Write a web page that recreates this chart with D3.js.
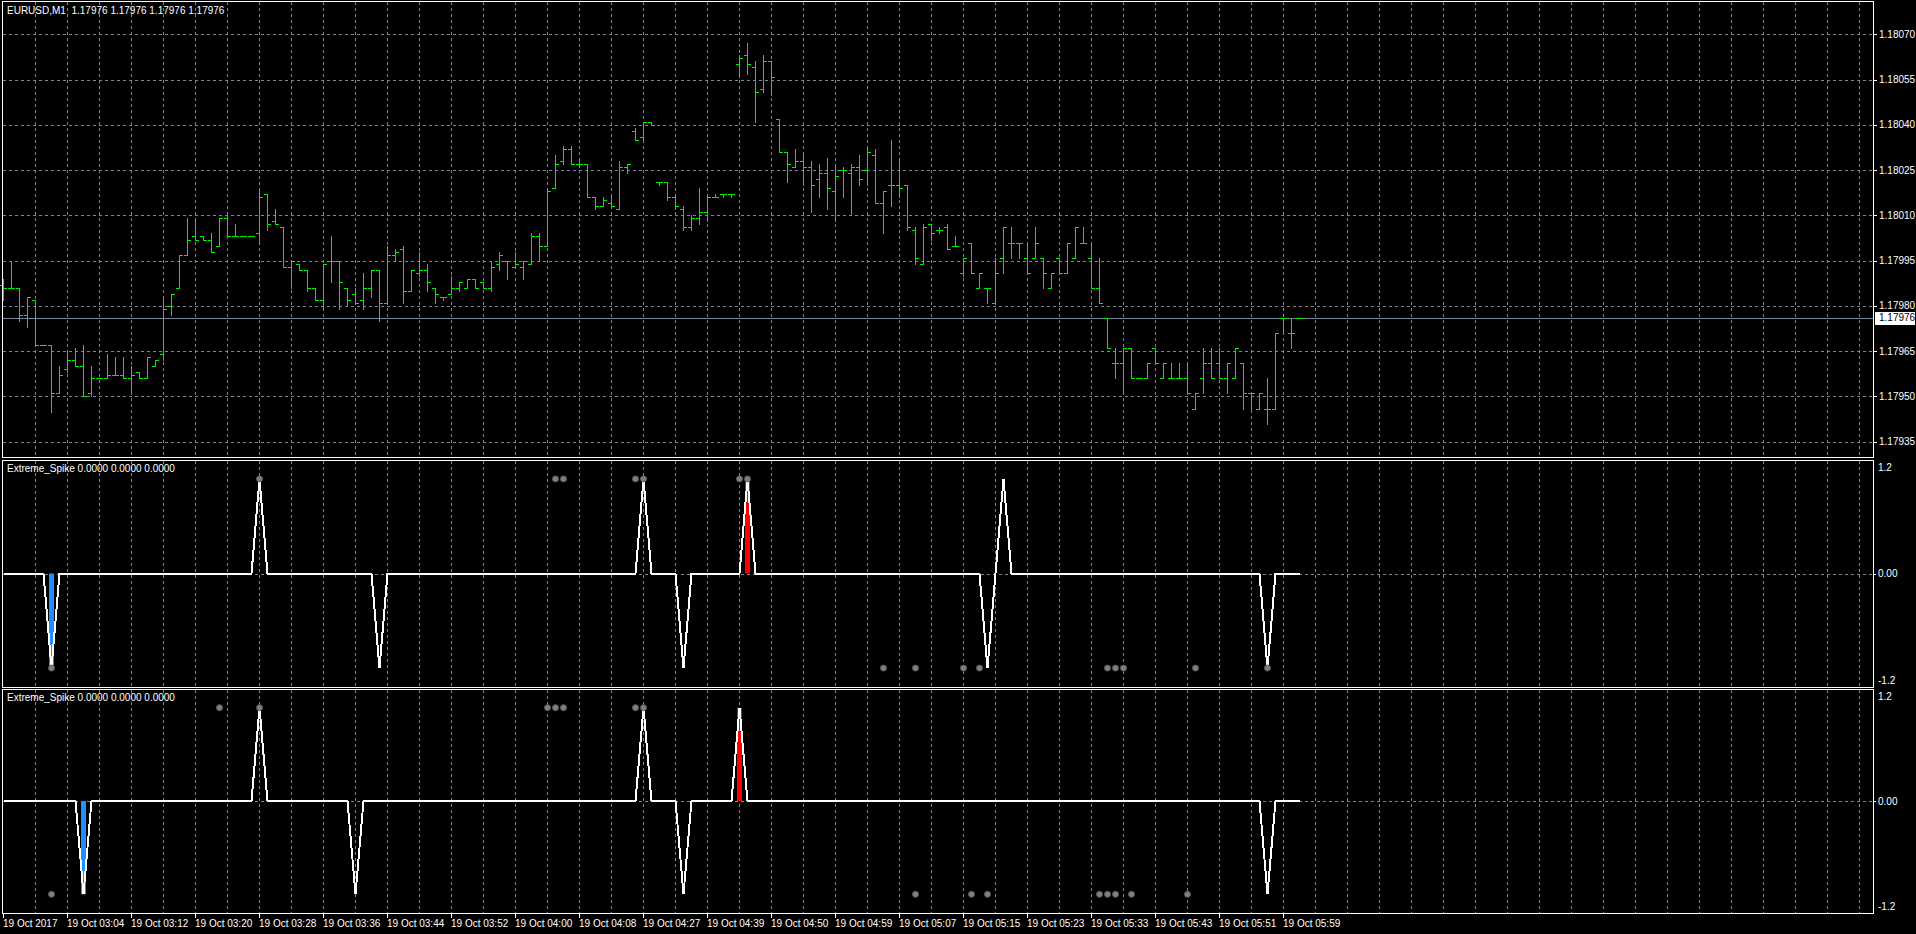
<!DOCTYPE html>
<html lang="en">
<head>
<meta charset="UTF-8" />
<script src="https://d3js.org/d3.v7.min.js"></script>
<title>EURUSD,M1</title>
<style>
  body { margin: 0; background: #000; overflow: hidden; }
  svg { display: block; font-family: "Liberation Sans", Arial, sans-serif; }
</style>
</head>
<body>
<svg width="1916" height="934"></svg>
<script>
// OHLC, one bar per minute (bars with no trades are skipped, like the terminal does)
const opens = [1.17987,1.17986,1.17986,1.17977,1.17982,1.17967,1.17967,1.17951,1.17959,1.17962,1.17960,1.17951,1.17956,1.17956,1.17957,1.17957,1.17956,1.17958,1.17956,1.17960,
  1.17964,1.17980,1.17986,1.17997,1.18003,1.18003,1.18002,1.18000,1.18009,1.18003,1.18003,1.18003,1.18004,1.18017,1.18008,1.18006,1.17993,1.17994,1.17992,1.17986,
  1.17982,1.17995,1.17995,1.17986,1.17984,1.17982,1.17986,1.17992,1.17981,1.17997,1.17999,1.17985,1.17991,1.17992,1.17986,1.17983,1.17984,1.17986,1.17986,1.17989,
  1.17988,1.17986,1.17994,1.17995,1.17993,1.17993,1.17994,1.18003,1.18000,1.18019,1.18028,1.18032,1.18027,1.18027,1.18016,1.18013,1.18014,1.18012,1.18026,1.18038,
  1.18036,1.18041,1.18021,1.18021,1.18016,1.18012,1.18006,1.18009,1.18011,1.18016,1.18017,1.18017,1.18060,1.18063,1.18059,1.18052,1.18061,1.18042,1.18031,1.18026,
  1.18028,1.18026,1.18022,1.18024,1.18018,1.18025,1.18024,1.18026,1.18025,1.18030,1.18014,1.18020,1.18020,1.18020,1.18005,1.17994,1.18007,1.18005,1.18006,1.18000,
  1.17991,1.18001,1.17986,1.17986,1.17981,1.17996,1.18001,1.18001,1.17996,1.17996,1.17996,1.17986,1.17996,1.17991,1.17996,1.18001,1.17996,1.17986,1.17976,1.17961,
  1.17961,1.17966,1.17956,1.17956,1.17966,1.17956,1.17956,1.17956,1.17956,1.17946,1.17956,1.17961,1.17961,1.17956,1.17956,1.17961,1.17951,1.17946,1.17946,1.17946,
  1.17976,1.17971,1.17976];
const highs = [1.17989,1.17995,1.17986,1.17983,1.17982,1.17967,1.17967,1.17960,1.17965,1.17966,1.17967,1.17960,1.17956,1.17964,1.17963,1.17963,1.17960,1.17958,1.17963,1.17962,
  1.17983,1.17984,1.17997,1.18009,1.18009,1.18003,1.18004,1.18009,1.18010,1.18007,1.18003,1.18003,1.18018,1.18017,1.18012,1.18006,1.17995,1.17994,1.17992,1.17986,
  1.17994,1.18003,1.17995,1.17986,1.17986,1.17991,1.17992,1.17992,1.18000,1.17999,1.18000,1.17992,1.17998,1.17994,1.17986,1.17983,1.17990,1.17988,1.17989,1.17989,
  1.17988,1.17995,1.17998,1.17995,1.17998,1.17995,1.18004,1.18004,1.18018,1.18030,1.18033,1.18033,1.18028,1.18027,1.18016,1.18016,1.18017,1.18028,1.18027,1.18039,
  1.18041,1.18041,1.18021,1.18021,1.18017,1.18013,1.18010,1.18019,1.18017,1.18017,1.18017,1.18017,1.18063,1.18067,1.18061,1.18063,1.18061,1.18042,1.18031,1.18032,
  1.18031,1.18028,1.18027,1.18029,1.18027,1.18026,1.18027,1.18030,1.18033,1.18032,1.18018,1.18035,1.18029,1.18020,1.18006,1.18007,1.18007,1.18006,1.18007,1.18003,
  1.17996,1.18001,1.17991,1.17986,1.17996,1.18006,1.18006,1.18001,1.18001,1.18006,1.17996,1.17991,1.17996,1.18001,1.18006,1.18006,1.18001,1.17996,1.17976,1.17966,
  1.17966,1.17966,1.17956,1.17961,1.17966,1.17961,1.17961,1.17961,1.17961,1.17951,1.17966,1.17966,1.17966,1.17961,1.17966,1.17961,1.17951,1.17951,1.17956,1.17971,
  1.17976,1.17976,1.17976];
const lows = [1.17982,1.17986,1.17975,1.17973,1.17967,1.17967,1.17945,1.17951,1.17958,1.17960,1.17950,1.17950,1.17956,1.17956,1.17957,1.17956,1.17951,1.17956,1.17956,1.17960,
  1.17962,1.17977,1.17986,1.17997,1.18002,1.18002,1.17998,1.18000,1.18003,1.18003,1.18003,1.18003,1.18001,1.18005,1.18007,1.17993,1.17986,1.17992,1.17985,1.17982,
  1.17979,1.17988,1.17979,1.17980,1.17981,1.17979,1.17983,1.17975,1.17981,1.17995,1.17981,1.17985,1.17990,1.17985,1.17981,1.17982,1.17984,1.17985,1.17986,1.17986,
  1.17986,1.17985,1.17992,1.17989,1.17993,1.17989,1.17994,1.17995,1.18000,1.18019,1.18027,1.18027,1.18026,1.18016,1.18012,1.18013,1.18013,1.18012,1.18024,1.18035,
  1.18035,1.18040,1.18020,1.18015,1.18012,1.18005,1.18005,1.18007,1.18008,1.18016,1.18016,1.18016,1.18056,1.18057,1.18041,1.18051,1.18050,1.18031,1.18021,1.18026,
  1.18020,1.18011,1.18016,1.18012,1.18008,1.18016,1.18010,1.18020,1.18020,1.18014,1.18004,1.18013,1.18016,1.18005,1.17994,1.17994,1.18002,1.18004,1.17999,1.18000,
  1.17990,1.17991,1.17986,1.17981,1.17981,1.17991,1.17996,1.17996,1.17991,1.17996,1.17986,1.17986,1.17991,1.17991,1.17996,1.18001,1.17986,1.17981,1.17966,1.17956,
  1.17951,1.17956,1.17956,1.17956,1.17961,1.17956,1.17956,1.17956,1.17951,1.17946,1.17951,1.17956,1.17956,1.17951,1.17956,1.17946,1.17946,1.17946,1.17941,1.17946,
  1.17971,1.17966,1.17976];
const closes = [1.17986,1.17986,1.17977,1.17983,1.17967,1.17967,1.17951,1.17957,1.17962,1.17960,1.17950,1.17956,1.17956,1.17957,1.17957,1.17956,1.17957,1.17956,1.17963,1.17962,
  1.17979,1.17984,1.17997,1.18002,1.18002,1.18002,1.17998,1.18009,1.18003,1.18003,1.18003,1.18003,1.18016,1.18007,1.18007,1.17993,1.17995,1.17992,1.17986,1.17982,
  1.17994,1.17995,1.17988,1.17982,1.17981,1.17986,1.17992,1.17981,1.17997,1.17998,1.17985,1.17992,1.17992,1.17988,1.17984,1.17983,1.17986,1.17988,1.17989,1.17986,
  1.17986,1.17993,1.17997,1.17995,1.17994,1.17995,1.18003,1.18000,1.18018,1.18027,1.18032,1.18027,1.18027,1.18016,1.18013,1.18015,1.18013,1.18026,1.18027,1.18035,
  1.18041,1.18040,1.18021,1.18016,1.18013,1.18006,1.18009,1.18011,1.18016,1.18016,1.18017,1.18017,1.18062,1.18060,1.18051,1.18061,1.18056,1.18031,1.18027,1.18028,
  1.18026,1.18020,1.18024,1.18019,1.18023,1.18025,1.18026,1.18022,1.18031,1.18014,1.18018,1.18020,1.18019,1.18006,1.17996,1.18006,1.18004,1.18005,1.17999,1.18000,
  1.17996,1.17991,1.17991,1.17986,1.17991,1.18006,1.18001,1.18001,1.17991,1.18001,1.17991,1.17991,1.17991,1.18001,1.18006,1.18001,1.17986,1.17981,1.17966,1.17961,
  1.17966,1.17956,1.17956,1.17961,1.17961,1.17961,1.17956,1.17956,1.17951,1.17951,1.17961,1.17956,1.17956,1.17961,1.17966,1.17951,1.17951,1.17951,1.17946,1.17971,
  1.17976,1.17971,1.17976];

const timeLabels = ["19 Oct 2017","19 Oct 03:04","19 Oct 03:12","19 Oct 03:20","19 Oct 03:28","19 Oct 03:36","19 Oct 03:44",
  "19 Oct 03:52","19 Oct 04:00","19 Oct 04:08","19 Oct 04:27","19 Oct 04:39","19 Oct 04:50","19 Oct 04:59","19 Oct 05:07",
  "19 Oct 05:15","19 Oct 05:23","19 Oct 05:33","19 Oct 05:43","19 Oct 05:51","19 Oct 05:59"];
const priceTicks = [1.18070,1.18055,1.18040,1.18025,1.18010,1.17995,1.17980,1.17965,1.17950,1.17935];
const lastPrice = 1.17976;

// Extreme_Spike, window 1: [bar, value]
const spikesA = [[6,-1],[32,1],[47,-1],[80,1],[85,-1],[93,1],[123,-1],[125,1],[158,-1]];
const histDownA = [6];
const histUpA = [93];
const dotsUpA = [32,69,70,79,80,92,93];
const dotsDownA = [6,110,114,120,122,138,139,140,149,158];
// Extreme_Spike, window 2
const spikesB = [[10,-1],[32,1],[44,-1],[80,1],[85,-1],[92,1],[158,-1]];
const histDownB = [10];
const histUpB = [92];
const dotsUpB = [27,32,68,69,70,79,80];
const dotsDownB = [6,114,121,123,137,138,139,141,148];

const W = 1916, H = 934;
const left = 2, right = 1873;
const n = closes.length;
const panes = [{top: 1, bottom: 457}, {top: 460, bottom: 687}, {top: 689, bottom: 913}];
const gridCol = "#778899";
const barCol = "#00ee00";

const svg = d3.select("svg");
svg.append("rect").attr("width", W).attr("height", H).attr("fill", "#000");

// bars are 8px apart
const x = d3.scaleLinear().domain([0, n - 1]).range([3, 3 + 8 * (n - 1)]);
const yMain = d3.scaleLinear().domain([1.17935, 1.18070]).range([441.7, 34.3]);
const px = v => Math.round(v) + 0.5;

// vertical grid in every pane
const gridBars = d3.range(4, 240, 4).filter(i => x(i) < right - 2);
panes.forEach(p => {
  svg.append("g").selectAll("line").data(gridBars).enter().append("line")
    .attr("x1", d => px(x(d))).attr("x2", d => px(x(d)))
    .attr("y1", p.top + 1).attr("y2", p.bottom)
    .attr("stroke", gridCol).attr("stroke-dasharray", "3,3")
    .attr("shape-rendering", "crispEdges");
});

// horizontal grid, main pane
svg.append("g").selectAll("line").data(priceTicks).enter().append("line")
  .attr("x1", left + 1).attr("x2", right)
  .attr("y1", d => px(yMain(d))).attr("y2", d => px(yMain(d)))
  .attr("stroke", gridCol).attr("stroke-dasharray", "3,3")
  .attr("shape-rendering", "crispEdges");

// bid line
svg.append("line")
  .attr("x1", left + 1).attr("x2", right)
  .attr("y1", px(yMain(lastPrice))).attr("y2", px(yMain(lastPrice)))
  .attr("stroke", gridCol).attr("shape-rendering", "crispEdges");

// OHLC bars
svg.append("g").selectAll("path").data(d3.range(n)).enter().append("path")
  .attr("d", i => {
    const cx = px(x(i));
    const yh = Math.round(yMain(highs[i])), yl = Math.round(yMain(lows[i]));
    const yo = px(yMain(opens[i])), yc = px(yMain(closes[i]));
    return `M${cx},${yh}V${yl + 1}M${cx - 3.5},${yo}H${cx}M${cx},${yc}H${cx + 3.5}`;
  })
  .attr("fill", "none").attr("stroke", barCol).attr("shape-rendering", "crispEdges");

// indicator panes
function drawIndicator(p, spikes, histDown, histUp, dotsUp, dotsDown) {
  const y = d3.scaleLinear().domain([-1.2, 1.2]).range([p.bottom, p.top]);
  const vals = new Array(n).fill(0);
  spikes.forEach(([b, v]) => { vals[b] = v; });

  svg.append("line")
    .attr("x1", left + 1).attr("x2", right)
    .attr("y1", px(y(0))).attr("y2", px(y(0)))
    .attr("stroke", gridCol).attr("stroke-dasharray", "3,3")
    .attr("shape-rendering", "crispEdges");

  svg.append("g").selectAll("rect").data(histDown.map(b => [b, -1]).concat(histUp.map(b => [b, 1])))
    .enter().append("rect")
    .attr("x", d => x(d[0]) - 2)
    .attr("width", 5)
    .attr("y", d => Math.min(y(0), y(d[1])))
    .attr("height", d => Math.abs(y(d[1]) - y(0)))
    .attr("fill", d => d[1] < 0 ? "#1e90ff" : "#ff0000");

  svg.append("path").datum(vals)
    .attr("d", d3.line().x((d, i) => x(i) + 0.5).y(d => y(d)))
    .attr("fill", "none").attr("stroke", "#fff").attr("stroke-width", 2)
    .attr("shape-rendering", "crispEdges");

  const dots = dotsUp.map(b => [b, 1]).concat(dotsDown.map(b => [b, -1]));
  svg.append("g").selectAll("circle").data(dots).enter().append("circle")
    .attr("cx", d => x(d[0]) + 0.5).attr("cy", d => y(d[1]))
    .attr("r", 3).attr("fill", "#808080").attr("stroke", "#5a5a5a");

  svg.append("text").attr("x", 7).attr("y", p.top + 12)
    .attr("fill", "#fff").attr("font-size", 10)
    .text("Extreme_Spike 0.0000 0.0000 0.0000");

  const axisLabels = [[1.2, "1.2", p.top + 7], [0, "0.00", y(0)], [-1.2, "-1.2", p.bottom - 7]];
  svg.append("g").selectAll("text").data(axisLabels).enter().append("text")
    .attr("x", right + 5).attr("y", d => d[2]).attr("dy", "0.35em")
    .attr("fill", "#fff").attr("font-size", 10).text(d => d[1]);
  svg.append("line").attr("x1", right).attr("x2", right + 3)
    .attr("y1", px(y(0))).attr("y2", px(y(0))).attr("stroke", "#fff")
    .attr("shape-rendering", "crispEdges");
}
drawIndicator(panes[1], spikesA, histDownA, histUpA, dotsUpA, dotsDownA);
drawIndicator(panes[2], spikesB, histDownB, histUpB, dotsUpB, dotsDownB);

// pane frames
panes.forEach(p => {
  svg.append("rect")
    .attr("x", left + 0.5).attr("y", p.top + 0.5)
    .attr("width", right - left).attr("height", p.bottom - p.top)
    .attr("fill", "none").attr("stroke", "#fff").attr("shape-rendering", "crispEdges");
});

// price axis
const pa = svg.append("g");
pa.selectAll("line").data(priceTicks).enter().append("line")
  .attr("x1", right).attr("x2", right + 4)
  .attr("y1", d => px(yMain(d))).attr("y2", d => px(yMain(d)))
  .attr("stroke", "#fff").attr("shape-rendering", "crispEdges");
pa.selectAll("text").data(priceTicks).enter().append("text")
  .attr("x", right + 6).attr("y", d => yMain(d)).attr("dy", "0.35em")
  .attr("fill", "#fff").attr("font-size", 10).text(d => d.toFixed(5));

// current price tag
svg.append("rect").attr("x", right + 2).attr("y", Math.round(yMain(lastPrice)) - 6)
  .attr("width", 40).attr("height", 13).attr("fill", "#fff");
svg.append("text").attr("x", right + 6).attr("y", yMain(lastPrice)).attr("dy", "0.35em")
  .attr("fill", "#000").attr("font-size", 10).text(lastPrice.toFixed(5));

// time axis
const ta = svg.append("g");
ta.selectAll("line").data(timeLabels).enter().append("line")
  .attr("x1", (d, k) => px(x(k * 8))).attr("x2", (d, k) => px(x(k * 8)))
  .attr("y1", panes[2].bottom).attr("y2", panes[2].bottom + 5)
  .attr("stroke", "#fff").attr("shape-rendering", "crispEdges");
ta.selectAll("text").data(timeLabels).enter().append("text")
  .attr("x", (d, k) => x(k * 8)).attr("y", 927)
  .attr("fill", "#fff").attr("font-size", 10).text(d => d);

// header
svg.append("text").attr("x", 7).attr("y", 14)
  .attr("fill", "#fff").attr("font-size", 10).style("white-space", "pre")
  .text("EURUSD,M1  " + d3.range(4).map(() => lastPrice.toFixed(5)).join(" "));
</script>
</body>
</html>
